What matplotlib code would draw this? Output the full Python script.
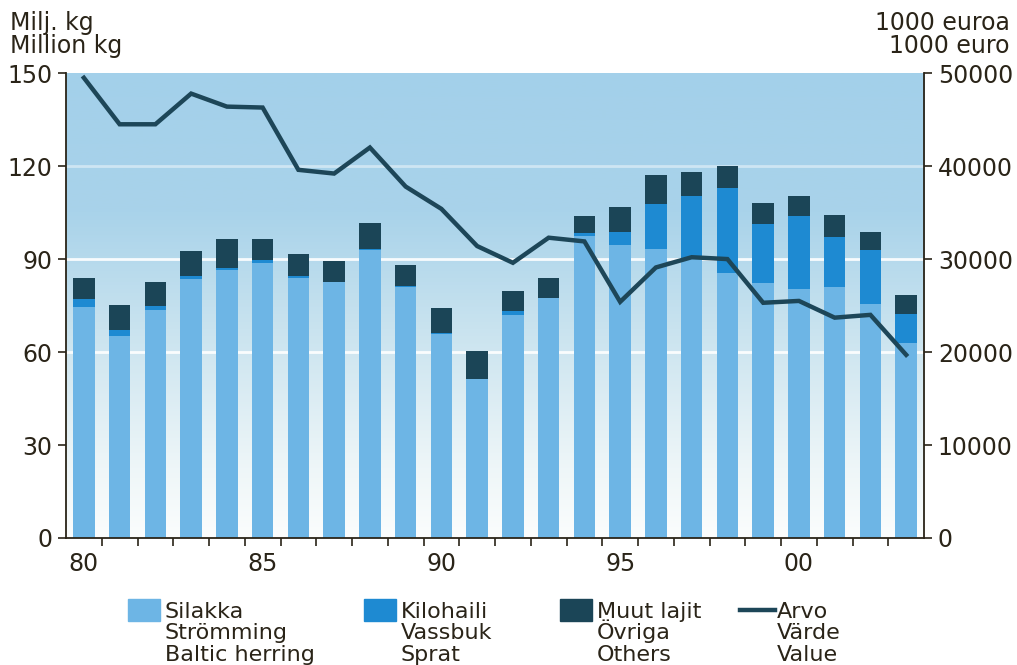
import numpy as np
import matplotlib.pyplot as plt
from matplotlib.patches import Rectangle
from matplotlib.lines import Line2D
from matplotlib.colors import LinearSegmentedColormap

# Saaliit ja arvo 1980-2003
years = list(range(1980, 2004))
silakka = [74.6, 65.2, 73.5, 83.5, 86.5, 88.8, 83.8, 82.5, 92.9, 81.0, 65.7, 51.3,
           71.9, 77.3, 97.5, 94.5, 93.3, 90.2, 85.4, 82.2, 80.5, 81.1, 75.4, 63.0]
kilohaili = [2.4, 2.0, 1.5, 1.0, 0.7, 0.9, 0.7, 0.2, 0.5, 0.3, 0.3, 0.0,
             1.3, 0.2, 0.8, 4.3, 14.4, 20.1, 27.4, 19.1, 23.4, 16.1, 17.5, 9.2]
muut = [7.0, 8.0, 7.7, 8.2, 9.3, 6.8, 7.0, 6.7, 8.1, 6.7, 8.1, 9.1,
        6.5, 6.5, 5.7, 7.9, 9.4, 7.9, 7.2, 6.9, 6.5, 7.0, 5.9, 6.2]
arvo = [49500, 44500, 44500, 47800, 46400, 46300, 39600, 39200, 42000, 37800, 35400, 31400,
        29600, 32300, 31900, 25400, 29100, 30200, 30000, 25300, 25500, 23700, 24000, 19700]

c_sil = '#6db5e5'
c_kilo = '#1e8ad2'
c_muut = '#1b4557'
c_line = '#1d4658'
txt = '#2a2418'

fig = plt.figure(figsize=(10.17, 6.65), dpi=100)
ax = fig.add_axes([0.0649, 0.191, 0.8437, 0.699])

# taustan liukuvari
bg = LinearSegmentedColormap.from_list('bg', [(0, '#fbfdfd'), (0.15, '#eef6f8'), (0.45, '#c9e3ef'),
                                             (0.7, '#a9d3ea'), (1, '#a3d0ea')])
grad = np.linspace(0, 1, 256).reshape(-1, 1)
ax.imshow(grad, cmap=bg, origin='lower', aspect='auto',
          extent=[1979.5, 2003.5, 0, 150], zorder=0)
for g in [60, 90, 120]:
    ax.axhline(g, color='white', lw=2, alpha=0.9 if g < 120 else 0.45, zorder=1)

x = np.array(years)
sil = np.array(silakka)
kilo = np.array(kilohaili)
ax.bar(x, sil, width=0.6, color=c_sil, zorder=2)
ax.bar(x, kilo, bottom=sil, width=0.6, color=c_kilo, zorder=2)
ax.bar(x, muut, bottom=sil + kilo, width=0.6, color=c_muut, zorder=2)

ax.set_xlim(1979.5, 2003.5)
ax.set_ylim(0, 150)
ax.set_yticks([0, 30, 60, 90, 120, 150])
ax.set_xticks([1980, 1985, 1990, 1995, 2000])
ax.set_xticklabels(['80', '85', '90', '95', '00'])
ax.set_xticks(np.arange(1980.5, 2003, 1), minor=True)
ax.tick_params(axis='x', which='major', length=0, pad=10, labelsize=17, colors=txt)
ax.tick_params(axis='x', which='minor', length=6, width=1.2, color=txt)
ax.tick_params(axis='y', length=6, width=1.2, labelsize=17, colors=txt, pad=4)
for s in ['top', 'right']:
    ax.spines[s].set_visible(False)
for s in ['left', 'bottom']:
    ax.spines[s].set_color(txt)
    ax.spines[s].set_linewidth(1.3)

ax2 = ax.twinx()
ax2.plot(x, arvo, color=c_line, lw=3.2, solid_joinstyle='miter', zorder=5)
ax2.set_ylim(0, 50000)
ax2.set_yticks([0, 10000, 20000, 30000, 40000, 50000])
ax2.tick_params(axis='y', length=6, width=1.2, labelsize=17, colors=txt, pad=4)
for s in ['top', 'left', 'bottom']:
    ax2.spines[s].set_visible(False)
ax2.spines['right'].set_color(txt)
ax2.spines['right'].set_linewidth(1.3)

fig.text(0.010, 0.983, 'Milj. kg\nMillion kg', ha='left', va='top', fontsize=17,
         color=txt, linespacing=0.92)
fig.text(0.993, 0.983, '1000 euroa\n1000 euro', ha='right', va='top', fontsize=17,
         color=txt, linespacing=0.92)

# selite
entries = [(0.126, c_sil, ['Silakka', 'Strömming', 'Baltic herring'], 'patch'),
           (0.358, c_kilo, ['Kilohaili', 'Vassbuk', 'Sprat'], 'patch'),
           (0.551, c_muut, ['Muut lajit', 'Övriga', 'Others'], 'patch'),
           (0.728, c_line, ['Arvo', 'Värde', 'Value'], 'line')]
for x0, col, lines, kind in entries:
    if kind == 'patch':
        fig.add_artist(Rectangle((x0, 0.066), 0.031, 0.034, transform=fig.transFigure,
                                 color=col))
    else:
        fig.add_artist(Line2D([x0, x0 + 0.034], [0.082, 0.082], transform=fig.transFigure,
                              color=col, lw=3.2))
    for i, s in enumerate(lines):
        fig.text(x0 + 0.036, 0.071 - i * 0.0325, s, ha='left', va='baseline',
                 fontsize=16, color=txt)

fig.savefig('out.png', dpi=100)
